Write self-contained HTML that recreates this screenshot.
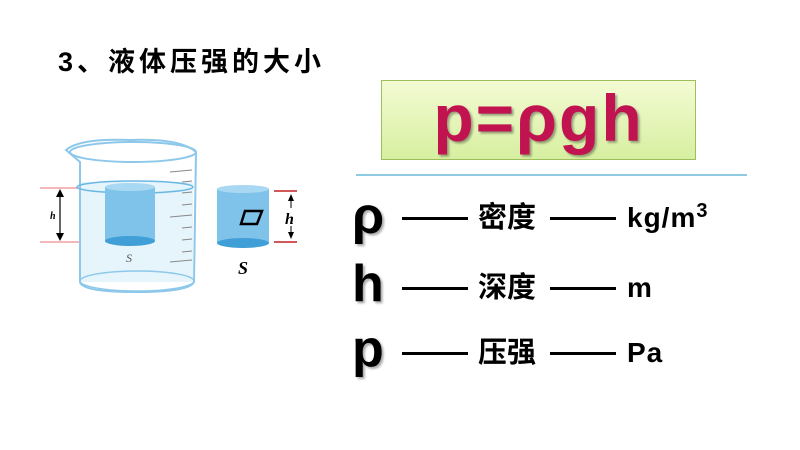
<!DOCTYPE html>
<html><head><meta charset="utf-8"><style>
body{margin:0;width:800px;height:450px;background:#fff;position:relative;overflow:hidden;font-family:"Liberation Sans","Noto Sans CJK SC",sans-serif;}
.t{position:absolute;font-weight:bold;color:#000;white-space:nowrap;}
.d{position:absolute;height:3px;background:#000;}
.w{position:absolute;font-weight:bold;font-size:29px;line-height:30px;white-space:nowrap;}
.u{position:absolute;font-weight:bold;font-size:28px;line-height:30px;white-space:nowrap;letter-spacing:1px;}
.sup{font-size:20px;position:relative;top:-10px;line-height:0;}
</style></head><body>
<div class="t" style="left:58px;top:40px;font-size:27px;letter-spacing:4px;">3、液体压强的大小</div>
<div style="position:absolute;left:381px;top:80px;width:315px;height:80px;background:linear-gradient(#f4fbd4,#d6efa0);border:1px solid #9cbf5a;box-sizing:border-box;"></div>
<div class="t" style="left:381px;top:80px;width:315px;height:80px;line-height:76px;text-align:center;font-size:66px;letter-spacing:2px;color:#c0134f;text-shadow:2px 2px 2px rgba(0,0,0,0.35);">p=ρgh</div>
<div style="position:absolute;left:356px;top:174px;width:391px;height:2px;background:#8fcbe0;"></div>

<div class="t" style="left:352px;top:186px;font-size:52px;text-shadow:2px 2px 2px #aaa;">ρ</div>
<div class="t" style="left:352px;top:254px;font-size:52px;text-shadow:2px 2px 2px #aaa;">h</div>
<div class="t" style="left:352px;top:319px;font-size:52px;text-shadow:2px 2px 2px #aaa;">p</div>

<div class="d" style="left:402px;top:217px;width:66px;"></div>
<div class="w" style="left:478px;top:203px;">密度</div>
<div class="d" style="left:550px;top:217px;width:66px;"></div>
<div class="u" style="left:627px;top:203px;">kg/m<span class="sup">3</span></div>

<div class="d" style="left:402px;top:287px;width:66px;"></div>
<div class="w" style="left:478px;top:273px;">深度</div>
<div class="d" style="left:550px;top:287px;width:66px;"></div>
<div class="u" style="left:627px;top:273px;">m</div>

<div class="d" style="left:402px;top:352px;width:66px;"></div>
<div class="w" style="left:478px;top:338px;">压强</div>
<div class="d" style="left:550px;top:352px;width:66px;"></div>
<div class="u" style="left:627px;top:338px;">Pa</div>

<svg style="position:absolute;left:0;top:0" width="800" height="450">
<line x1="40" y1="188" x2="80" y2="188" stroke="#f0a0a0" stroke-width="1.5"/>
<line x1="40" y1="242" x2="80" y2="242" stroke="#f0a0a0" stroke-width="1.5"/>
<line x1="60" y1="191" x2="60" y2="239" stroke="#000" stroke-width="1.2"/>
<path d="M56,197 L60,189 L64,197 Z M56,233 L60,241 L64,233 Z" fill="#000"/>
<text x="50" y="219" font-family="Liberation Serif" font-style="italic" font-weight="bold" font-size="10">h</text>
<rect x="80" y="182" width="113" height="100" fill="#e6f4fb"/>
<path d="M66,150 Q80,138 130,140 Q180,138 196,152 L194,282 Q190,292 136,292 Q82,292 80,282 L80,162 Z" fill="none" stroke="#8dc8ea" stroke-width="2"/>
<ellipse cx="133" cy="152" rx="63" ry="10" fill="none" stroke="#8dc8ea" stroke-width="2"/>
<ellipse cx="135" cy="187" rx="58" ry="6" fill="none" stroke="#6ab7e3" stroke-width="1.5"/>
<ellipse cx="137" cy="281" rx="57" ry="10" fill="none" stroke="#8dc8ea" stroke-width="1.5"/>
<g stroke="#888" stroke-width="1">
<line x1="170" y1="172" x2="192" y2="170"/><line x1="182" y1="182" x2="192" y2="181"/><line x1="182" y1="193" x2="192" y2="192"/>
<line x1="182" y1="205" x2="192" y2="204"/><line x1="170" y1="217" x2="192" y2="215"/><line x1="182" y1="228" x2="192" y2="227"/>
<line x1="182" y1="240" x2="192" y2="239"/><line x1="182" y1="252" x2="192" y2="251"/><line x1="170" y1="262" x2="192" y2="260"/>
</g>
<rect x="105" y="187" width="50" height="54" fill="#7fc3ea"/>
<ellipse cx="130" cy="187" rx="25" ry="4" fill="#a8d8f2"/>
<ellipse cx="130" cy="241" rx="25" ry="5" fill="#3f9fd6"/>
<text x="126" y="262" font-family="Liberation Serif" font-style="italic" font-size="12" fill="#555">S</text>
<rect x="217" y="189" width="52" height="54" fill="#7fc3ea"/>
<ellipse cx="243" cy="189" rx="26" ry="4" fill="#a8d8f2"/>
<ellipse cx="243" cy="243" rx="26" ry="5" fill="#3f9fd6"/>
<path d="M245,211 L262,211 L257,224 L241,224 Z" fill="none" stroke="#000" stroke-width="2.5"/>
<line x1="274" y1="191" x2="297" y2="191" stroke="#c02020" stroke-width="1.5"/>
<line x1="274" y1="242" x2="297" y2="242" stroke="#c02020" stroke-width="1.5"/>
<line x1="291" y1="196" x2="291" y2="237" stroke="#000" stroke-width="1"/>
<path d="M288,201 L291,194 L294,201 Z M288,232 L291,239 L294,232 Z" fill="#000"/>
<rect x="284" y="208" width="14" height="18" fill="#fff"/>
<text x="285" y="224" font-family="Liberation Serif" font-style="italic" font-weight="bold" font-size="16">h</text>
<text x="238" y="274" font-family="Liberation Serif" font-style="italic" font-weight="bold" font-size="18">S</text>
</svg>
</body></html>
